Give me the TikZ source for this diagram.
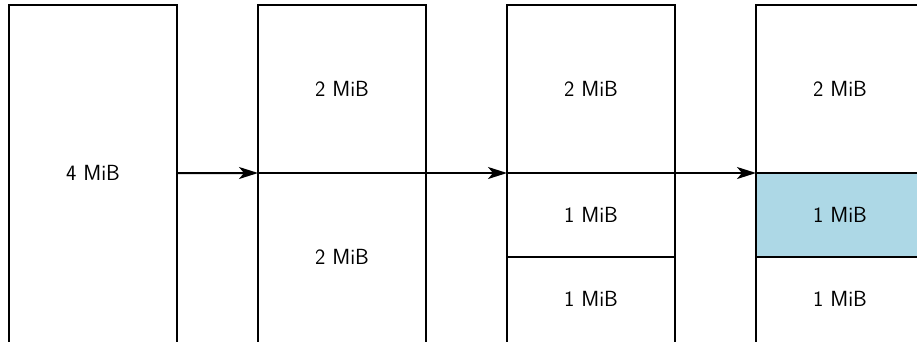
\documentclass[tikz,border=0pt]{standalone}
\usetikzlibrary{arrows.meta}
\definecolor{memblue}{HTML}{ADD8E6}
\begin{document}
\begin{tikzpicture}[x=1bp,y=-1bp,
  seg/.style={anchor=north west,inner sep=0pt,outer sep=0pt,minimum width=168bp,
    font=\fontsize{22}{25}\selectfont\sffamily},
  whole/.style={seg,minimum height=336bp},
  half/.style={seg,minimum height=168bp},
  quarter/.style={seg,minimum height=84bp},
  edge/.style={line width=2bp,line cap=rect},
  split/.style={line width=2bp},
  arr/.style={line width=2bp,-{Stealth[length=19bp,width=12bp,inset=5bp]}}]
\useasboundingbox (0,0) rectangle (917,341);
\clip (0,0) rectangle (917,341);
% block layouts, left to right
\node[whole]   (c1)  at (9,5)     {4 MiB};
\node[half]    (c2a) at (258,5)   {2 MiB};
\node[half]    (c2b) at (258,173) {2 MiB};
\node[half]    (c3a) at (507,5)   {2 MiB};
\node[quarter] (c3b) at (507,173) {1 MiB};
\node[quarter] (c3c) at (507,257) {1 MiB};
\node[half]    (c4a) at (756,5)   {2 MiB};
\node[quarter,fill=memblue] (c4b) at (756,173) {1 MiB};
\node[quarter] (c4c) at (756,257) {1 MiB};
% outer frames (open at the bottom)
\draw[edge] (c1.south west) -- (c1.north west) -- (c1.north east) -- (c1.south east);
\draw[edge] (c2b.south west) -- (c2a.north west) -- (c2a.north east) -- (c2b.south east);
\draw[edge] (c3c.south west) -- (c3a.north west) -- (c3a.north east) -- (c3c.south east);
\draw[edge] (c4c.south west) -- (c4a.north west) -- (c4a.north east) -- (c4c.south east);
% splits
\draw[split] (c2b.north west) -- (c2b.north east);
\draw[split] (c3b.north west) -- (c3b.north east);
\draw[split] (c3c.north west) -- (c3c.north east);
\draw[split] (c4b.north west) -- (c4b.north east);
\draw[split] (c4c.north west) -- (c4c.north east);
% steps
\draw[arr] (c1.east) -- (c2a.south west);
\draw[arr] (c2a.south east) -- (c3a.south west);
\draw[arr] (c3a.south east) -- (c4a.south west);
\end{tikzpicture}
\end{document}
